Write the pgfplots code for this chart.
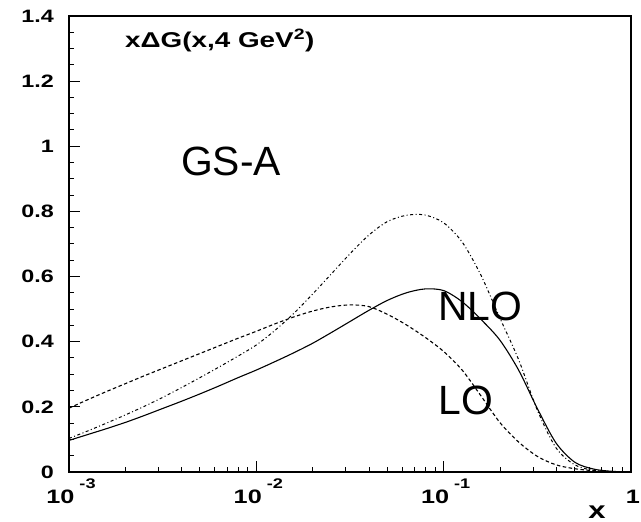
\documentclass[border=0pt]{standalone}
\usepackage{fontspec}
\setmainfont{Liberation Sans}
\usepackage{graphicx}
\usepackage{pgfplots}
\usepackage{pgfplotstable}
\pgfplotsset{compat=1.18}

% axis text is set bold and slightly widened
\newcommand\wide[1]{\scalebox{1.3}[1]{#1}}
\newcommand\yl[1]{{\fontsize{18}{18}\selectfont\bfseries\wide{#1}}}
\newcommand\xtl[1]{{\fontsize{19.5}{19.5}\selectfont\bfseries\wide{10}\hspace{5bp}\raisebox{15bp}{\fontsize{14}{14}\selectfont\wide{#1}}}}
\newcommand\xone{{\fontsize{19.5}{19.5}\selectfont\bfseries\wide{1}}}

% x, NLO (solid), LO (dashed), NLO second set (dash-dotted)
\pgfplotstableread{
x          nlo    lo     nlob
1e-3       0.097  0.196  0.103
1.2589e-3  0.115  0.222  0.126
1.5849e-3  0.133  0.247  0.150
1.9953e-3  0.152  0.271  0.175
2.5119e-3  0.173  0.295  0.201
3.1623e-3  0.195  0.318  0.229
3.9811e-3  0.217  0.341  0.259
5.0119e-3  0.240  0.364  0.290
6.3096e-3  0.264  0.387  0.322
7.9433e-3  0.289  0.410  0.355
1e-2       0.313  0.432  0.390
1.2589e-2  0.339  0.455  0.435
1.5849e-2  0.366  0.476  0.487
1.9953e-2  0.395  0.494  0.546
2.5119e-2  0.428  0.507  0.608
3.1623e-2  0.462  0.513  0.670
3.9811e-2  0.496  0.508  0.727
5.0119e-2  0.527  0.484  0.769
6.3096e-2  0.550  0.452  0.788
7.9433e-2  0.562  0.414  0.789
1e-1       0.557  0.370  0.765
1.2589e-1  0.522  0.312  0.705
1.5849e-1  0.468  0.233  0.603
1.9953e-1  0.405  0.152  0.473
2.5119e-1  0.313  0.092  0.345
3.1623e-1  0.195  0.048  0.190
3.9811e-1  0.089  0.022  0.074
5.0119e-1  0.030  0.010  0.022
6.3096e-1  0.009  0.004  0.005
7.9433e-1  0.002  0.001  0.001
1          0.000  0.000  0.000
}\gluon

\begin{document}
\begin{tikzpicture}
\begin{axis}[
  at={(0,0)}, anchor=south west,
  scale only axis, width=562bp, height=456bp,
  xmode=log, xmin=1e-3, xmax=1, ymin=0, ymax=1.4,
  xtick={0.001,0.01,0.1,1},
  xticklabels={\xtl{-3},\xtl{-2},\xtl{-1},\xone},
  minor xtick={0.002,0.003,0.004,0.005,0.006,0.007,0.008,0.009,
               0.02,0.03,0.04,0.05,0.06,0.07,0.08,0.09,
               0.2,0.3,0.4,0.5,0.6,0.7,0.8,0.9},
  ytick={0,0.2,0.4,0.6,0.8,1,1.2,1.4},
  yticklabels={\yl{0},\yl{0.2},\yl{0.4},\yl{0.6},\yl{0.8},\yl{1},\yl{1.2},\yl{1.4}},
  minor y tick num=3,
  tick align=inside,
  xtick pos=left, ytick pos=left,
  major tick length=11bp, minor tick length=5bp,
  axis line style={line width=1.1bp},
  every tick/.style={black, line width=1bp},
  yticklabel style={anchor=east, inner sep=0pt, xshift=-15bp},
  xticklabel style={anchor=base, inner sep=0pt, yshift=-31bp, xshift=2bp},
]

\addplot[black, line width=1.1bp, smooth] table[x=x, y=nlo] {\gluon};
\addplot[black, line width=1.1bp, smooth, dash pattern=on 3.5bp off 2.5bp] table[x=x, y=lo] {\gluon};
\addplot[black, line width=1.0bp, smooth, dash pattern=on 3bp off 2.5bp on 1bp off 2.5bp] table[x=x, y=nlob] {\gluon};

\node[anchor=base west, inner sep=0pt, font=\fontsize{21.5}{21.5}\selectfont\bfseries]
  at (rel axis cs:0.0996,0.932) {\wide{xΔG(x,4 GeV\textsuperscript{2})}};
\node[anchor=base west, inner sep=0pt, font=\fontsize{41}{41}\selectfont]
  at (rel axis cs:0.199,0.651) {GS-A};
\node[anchor=base west, inner sep=0pt, font=\fontsize{41}{41}\selectfont]
  at (rel axis cs:0.657,0.333) {NLO};
\node[anchor=base west, inner sep=0pt, font=\fontsize{41}{41}\selectfont]
  at (rel axis cs:0.657,0.125) {LO};
\end{axis}
\node[anchor=base, inner sep=0pt, font=\fontsize{24}{24}\selectfont\bfseries]
  at (528bp,-46bp) {\wide{x}};
\pgfresetboundingbox
\path[use as bounding box] (-69bp,-50bp) rectangle (572bp,472bp);
\end{tikzpicture}
\end{document}
